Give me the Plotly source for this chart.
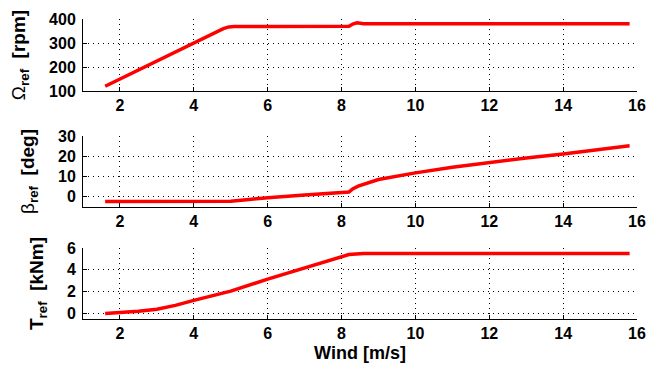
import plotly.graph_objects as go
from plotly.subplots import make_subplots

# Data
omega_x = [1.6, 2, 3, 4, 4.8, 4.95, 5.1, 6, 7, 8, 8.2, 8.32, 8.42, 8.6, 10, 12, 14, 15.8]
omega = [120, 150, 225, 300, 360, 367, 369, 369, 369, 369, 370, 380, 384, 380, 380, 380, 380, 380]

beta_x = [1.6, 2, 3, 4, 5, 5.5, 6, 7, 8, 8.2, 8.3, 8.45, 9, 10, 11, 12, 13, 14, 15, 15.8]
beta = [-2.5, -2.5, -2.5, -2.5, -2.4, -1.5, -0.6, 0.7, 1.9, 2.2, 3.8, 5.2, 8.5, 11.8, 14.6, 17, 19.2, 21.2, 23.4, 25.3]

torque_x = [1.6, 2, 2.5, 3, 3.5, 4, 4.5, 5, 6, 7, 8, 8.2, 8.6, 10, 12, 14, 15.8]
torque = [0.0, 0.06, 0.2, 0.4, 0.75, 1.2, 1.6, 2.05, 3.15, 4.2, 5.2, 5.4, 5.5, 5.5, 5.5, 5.5, 5.5]

x_ticks = [2, 4, 6, 8, 10, 12, 14, 16]
y1_ticks = [100, 200, 300, 400]
y2_ticks = [0, 10, 20, 30]
y3_ticks = [0, 2, 4, 6]

fig = make_subplots(rows=3, cols=1)
for i, (xs, ys) in enumerate([(omega_x, omega), (beta_x, beta), (torque_x, torque)], start=1):
    fig.add_trace(go.Scatter(x=xs, y=ys, mode="lines",
                             line=dict(color="#ff0000", width=3.5),
                             showlegend=False), row=i, col=1)

FAM = "Arial, Liberation Sans, sans-serif"
tfont = dict(family=FAM, size=16, color="black")
domains = [[0.760, 1.0], [0.375, 0.6086], [0.0, 0.2368]]
yranges = [[100, 400], [-5, 30], [-0.5, 6]]
yticks = [y1_ticks, y2_ticks, y3_ticks]
ytitles = ["Ω<b><sub>ref</sub>  [rpm]</b>", "β<b><sub>ref</sub>  [deg]</b>", "<b>T<sub>ref</sub>  [kNm]</b>"]

def bold(vals):
    return ["<b>%s</b>" % v for v in vals]

axis_common = dict(showline=True, linecolor="black", linewidth=1, mirror=False,
                   ticks="inside", ticklen=4, tickcolor="black",
                   showgrid=True, gridcolor="black", gridwidth=1, griddash="1px,4px",
                   zeroline=False, tickfont=tfont)
for i in range(3):
    sfx = "" if i == 0 else str(i + 1)
    fig.layout["xaxis" + sfx].update(range=[1, 16], tickvals=x_ticks, ticktext=bold(x_ticks),
                                     **axis_common)
    fig.layout["yaxis" + sfx].update(range=yranges[i], tickvals=yticks[i], ticktext=bold(yticks[i]),
                                     domain=domains[i],
                                     title=dict(text=ytitles[i], font=dict(family=FAM, size=19, color="black"),
                                                standoff=18),
                                     ticklabelstandoff=3, **axis_common)

fig.layout.xaxis3.title = dict(text="<b>Wind [m/s]</b>", font=dict(family=FAM, size=18, color="black"),
                               standoff=5)

fig.update_layout(width=657, height=376, plot_bgcolor="white", paper_bgcolor="white",
                  margin=dict(l=83, r=11, t=15, b=57))
fig.write_html("out.html")
